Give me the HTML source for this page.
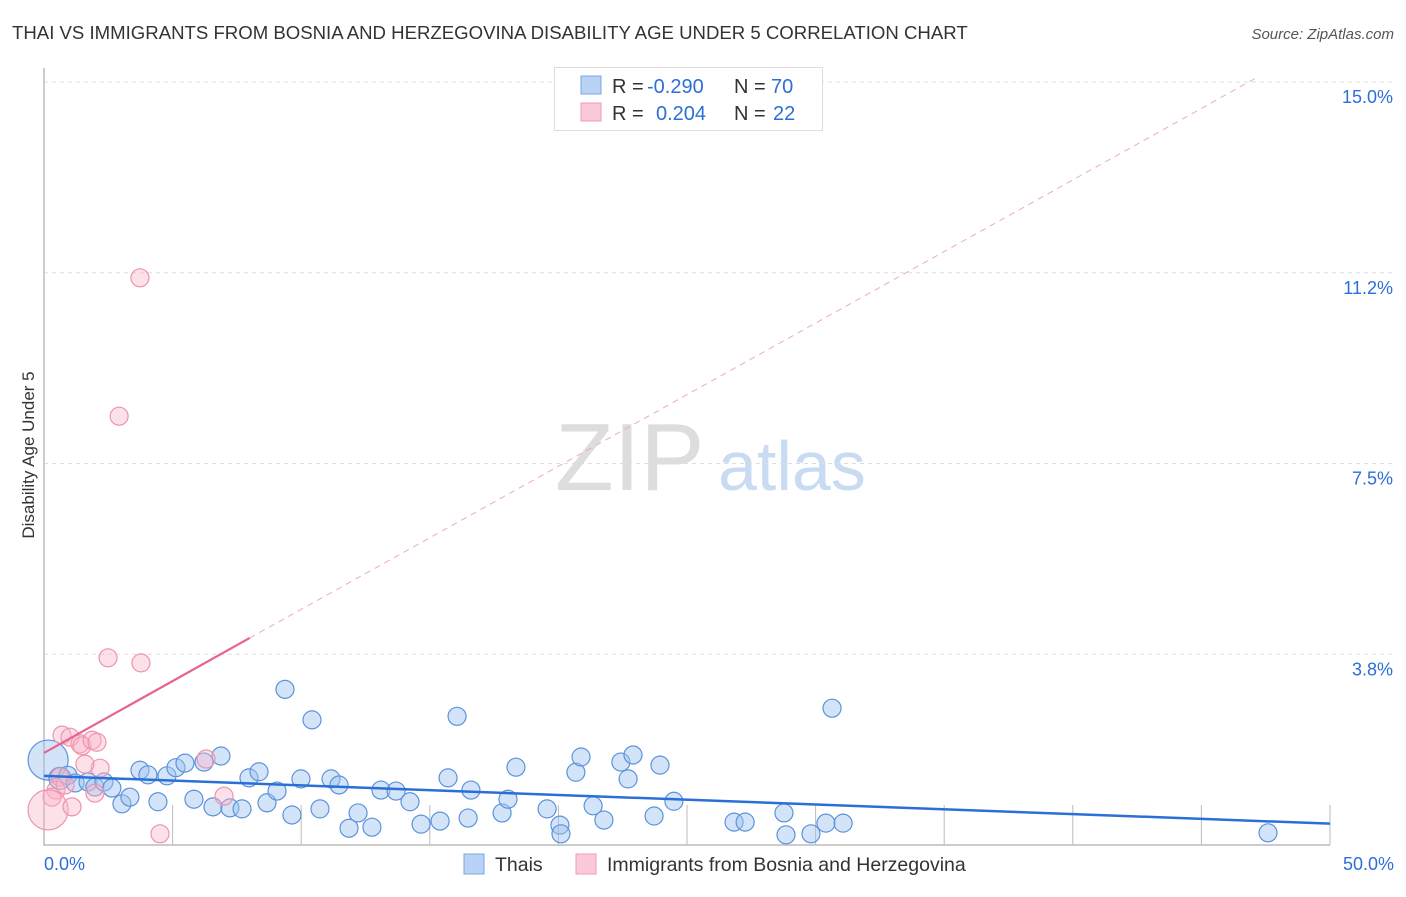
<!DOCTYPE html>
<html><head><meta charset="utf-8"><style>
body{margin:0;background:#fff;font-family:"Liberation Sans",sans-serif;}
svg text{font-family:"Liberation Sans",sans-serif;}
</style></head><body>
<svg id="c" width="1406" height="892" xmlns="http://www.w3.org/2000/svg">
<text x="12" y="39" font-size="18.6" fill="#333">THAI VS IMMIGRANTS FROM BOSNIA AND HERZEGOVINA DISABILITY AGE UNDER 5 CORRELATION CHART</text>
<text x="1394" y="39" font-size="15" fill="#555" text-anchor="end" font-style="italic">Source: ZipAtlas.com</text>
<text x="555" y="490" font-size="96" fill="#ddd" font-family="Liberation Serif">ZIP</text>
<text x="718" y="490" font-size="70" fill="#c9dbf2">atlas</text>
<text transform="translate(34,455) rotate(-90)" font-size="17" fill="#333" text-anchor="middle">Disability Age Under 5</text>
<g id="grid"></g><g id="pts"></g><g id="lines"></g>
<g>
<rect x="554.5" y="67.5" width="268" height="63" fill="#fff" stroke="#ddd"/>
<rect x="581" y="76" width="20" height="18" fill="#b8d3f5" stroke="#7aa7e0"/>
<rect x="581" y="103" width="20" height="18" fill="#fcc9d8" stroke="#f09ab4"/>
<text x="612" y="93" font-size="20" fill="#333">R =</text>
<text x="647" y="93" font-size="20" fill="#2c6fd6">-0.290</text>
<text x="734" y="93" font-size="20" fill="#333">N =</text>
<text x="771" y="93" font-size="20" fill="#2c6fd6">70</text>
<text x="612" y="120" font-size="20" fill="#333">R =</text>
<text x="656" y="120" font-size="20" fill="#2c6fd6">0.204</text>
<text x="734" y="120" font-size="20" fill="#333">N =</text>
<text x="773" y="120" font-size="20" fill="#2c6fd6">22</text>
</g>
<g>
<rect x="464" y="854" width="20" height="20" fill="#b8d3f5" stroke="#7aa7e0"/>
<text x="495" y="871" font-size="19.5" fill="#333">Thais</text>
<rect x="576" y="854" width="20" height="20" fill="#fcc9d8" stroke="#f09ab4"/>
<text x="607" y="871" font-size="19.5" fill="#333">Immigrants from Bosnia and Herzegovina</text>
</g>
<text x="44" y="870" font-size="18" fill="#2c6fd6">0.0%</text>
<text x="1394" y="870" font-size="18" fill="#2c6fd6" text-anchor="end">50.0%</text>
</svg>
<script>
const yTicks=[3.75,7.5,11.25,15];
const yTickLabels=["3.8%","7.5%","11.2%","15.0%"];
const xTicks=[0,5,10,15,20,25,30,35,40,45,50];
const thaiX=[0.16,0.62,0.93,1.21,1.71,1.98,2.33,2.64,3.03,3.34,3.73,4.04,4.43,4.78,5.13,5.48,5.83,6.22,6.57,6.88,7.23,7.70,7.97,8.36,8.67,9.06,9.37,9.64,9.99,10.42,10.73,11.16,11.47,11.86,12.21,12.75,13.10,13.69,14.23,14.66,15.40,15.71,16.06,16.49,16.60,17.81,18.04,18.35,19.56,20.06,20.10,20.68,20.88,21.35,21.77,22.43,22.71,22.90,23.72,23.95,24.49,26.83,27.26,28.77,28.85,29.82,30.40,30.64,31.07,47.59];
const thaiY=[1.67,1.31,1.37,1.22,1.24,1.14,1.24,1.12,0.81,0.94,1.47,1.38,0.85,1.36,1.52,1.61,0.90,1.63,0.75,1.75,0.73,0.71,1.32,1.44,0.83,1.06,3.06,0.59,1.30,2.46,0.71,1.30,1.18,0.33,0.63,0.35,1.08,1.06,0.85,0.41,0.47,1.32,2.53,0.53,1.08,0.63,0.90,1.53,0.71,0.39,0.22,1.43,1.73,0.77,0.49,1.63,1.30,1.77,0.57,1.57,0.86,0.45,0.45,0.63,0.20,0.22,0.43,2.69,0.43,0.24];
const thaiR=[20,11,9,9,9,9,9,9,9,9,9,9,9,9,9,9,9,9,9,9,9,9,9,9,9,9,9,9,9,9,9,9,9,9,9,9,9,9,9,9,9,9,9,9,9,9,9,9,9,9,9,9,9,9,9,9,9,9,9,9,9,9,9,9,9,9,9,9,9,9];
const bosX=[3.73,2.92,2.49,3.77,0.70,1.01,1.40,1.48,1.87,2.06,0.62,0.47,0.31,0.16,1.09,0.82,2.18,1.98,6.30,7.00,4.51,1.59];
const bosY=[11.15,8.43,3.68,3.58,2.16,2.12,1.99,1.95,2.06,2.02,1.34,1.08,0.94,0.69,0.75,1.18,1.51,1.02,1.69,0.96,0.22,1.59];
const bosR=[9,9,9,9,9,9,9,9,9,9,9,9,9,20,9,9,9,9,9,9,9,9];
const thaiTrend=[[0,1.36],[50,0.42]];
const bosTrend=[[0,1.81],[8,4.07],[47.2,15.1]];
const NS="http://www.w3.org/2000/svg";
const X0=44,X1=1330,Y0=845,YT=82;
const sx=v=>X0+v/50*(X1-X0);
const sy=v=>Y0-v/15*(Y0-YT);
function mk(t,a,p){const e=document.createElementNS(NS,t);for(const k in a)e.setAttribute(k,a[k]);p.appendChild(e);return e;}
const g=document.getElementById('grid');
yTicks.forEach((v,i)=>{
 const l=mk('line',{x1:X0,x2:1394,y1:sy(v),y2:sy(v),stroke:'#ddd','stroke-dasharray':'4,4'},g);
 
 
 const t=mk('text',{x:1393,y:sy(v)+21,'font-size':18,fill:'#2c6fd6','text-anchor':'end'},g);
 t.textContent=yTickLabels[i];
 
 
});
xTicks.forEach(v=>{
 const l=mk('line',{x1:sx(v),x2:sx(v),y1:Y0-40,y2:Y0,stroke:'#bbb'},g);
 
 
});
const ax=mk('path',{d:`M${X0} 68V${Y0}H${X1}`,fill:'none',stroke:'#bbb','stroke-width':1.5},g);


const p=document.getElementById('pts');
thaiX.forEach((v,i)=>{
 const c=mk('circle',{cx:sx(v),cy:sy(thaiY[i]),r:thaiR[i],fill:'rgba(160,196,240,0.45)',stroke:'#5b93dc','stroke-width':1.2},p);
 
 
});
bosX.forEach((v,i)=>{
 const c=mk('circle',{cx:sx(v),cy:sy(bosY[i]),r:bosR[i],fill:'rgba(250,180,200,0.4)',stroke:'#ee93ae','stroke-width':1.2},p);
 
 
});
const L=document.getElementById('lines');
const t1=mk('line',{x1:sx(thaiTrend[0][0]),y1:sy(thaiTrend[0][1]),x2:sx(thaiTrend[1][0]),y2:sy(thaiTrend[1][1]),stroke:'#2a6fd8','stroke-width':2.5},L);


const t2=mk('line',{x1:sx(bosTrend[0][0]),y1:sy(bosTrend[0][1]),x2:sx(bosTrend[1][0]),y2:sy(bosTrend[1][1]),stroke:'#e8638e','stroke-width':2.2},L);


const t3=mk('line',{x1:sx(bosTrend[1][0]),y1:sy(bosTrend[1][1]),x2:sx(bosTrend[2][0]),y2:sy(bosTrend[2][1]),stroke:'#eeaabd','stroke-width':1,'stroke-dasharray':'6,5'},L);


</script>
</body></html>
